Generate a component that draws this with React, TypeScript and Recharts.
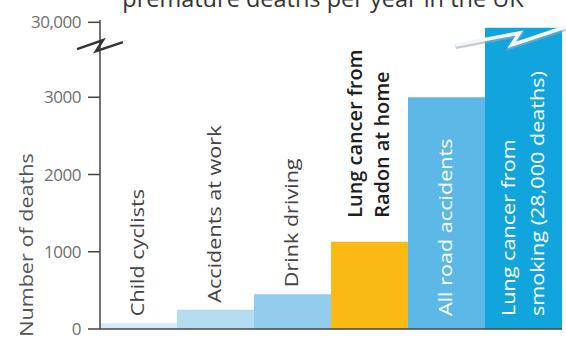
import React from "react";
import { BarChart, Bar, XAxis, YAxis, Cell, LabelList, ReferenceDot, Customized } from "recharts";

const categories = [
  "Child cyclists",
  "Accidents at work",
  "Drink driving",
  "Lung cancer from Radon at home",
  "All road accidents",
  "Lung cancer from smoking (28,000 deaths)",
];
const labelLines: string[][] = [
  ["Child cyclists"],
  ["Accidents at work"],
  ["Drink driving"],
  ["Lung cancer from", "Radon at home"],
  ["All road accidents"],
  ["Lung cancer from", "smoking (28,000 deaths)"],
];
const deaths = [75, 250, 450, 1130, 3000, 28000];
const colors = ["#d3eaf8", "#b3dcf3", "#93cdee", "#fbba12", "#5cb8e7", "#12a5dd"];
const yTickValues = [0, 1000, 2000, 3000, 30000];
const title = "premature deaths per year in the UK";
const yTitle = "Number of deaths";
const highlightIndex = 3;

// Broken axis: values above 3000 are compressed
const BREAK = 3000;
const TOP = 30000;
const TOP_DISPLAY = 3970;
const compress = (v: number) => (v <= BREAK ? v : BREAK + ((v - BREAK) * (TOP_DISPLAY - BREAK)) / (TOP - BREAK));

const data = categories.map((c, i) => ({ name: c, value: deaths[i], display: compress(deaths[i]) }));

const FONT = "'Open Sans', 'Noto Sans', sans-serif";
const STRETCH = 1.2;

const VText = ({ x, y, children, fontSize, fill, weight, k }: any) => (
  <text
    transform={`translate(${x} ${y}) rotate(-90) scale(${k} 1)`}
    x={0}
    y={0}
    textAnchor="start"
    fontSize={fontSize}
    fontWeight={weight}
    fill={fill}
    fontFamily={FONT}
  >
    {children}
  </text>
);

const BarLabel = (props: any) => {
  const { x, y, width, height, index } = props;
  const lines = labelLines[index];
  const cx = x + width / 2;
  const inside = deaths[index] > 2000;
  const bold = index === highlightIndex;
  const fs = bold ? 19.5 : 18;
  const lh = bold ? 27 : 29;
  const bottom = inside ? y + height - 13 : y - (bold ? 24 : 7);
  const fill = inside ? "#ffffff" : bold ? "#1e1e1e" : "#444";
  const n = lines.length;
  return (
    <g>
      {lines.map((ln, k) => {
        const off = (k - (n - 1) / 2) * lh;
        const tx = cx + off + fs * 0.33;
        return (
          <VText key={k} x={tx} y={bottom} fontSize={fs} fill={fill} weight={bold ? 600 : 400} k={bold ? 1.02 : STRETCH}>
            {ln}
          </VText>
        );
      })}
    </g>
  );
};

const AxisBreak = (props: any) => {
  const { cx, cy } = props;
  const ax = cx - 38.5;
  const pts = `${ax - 23},${cy + 6} ${ax + 3},${cy - 3} ${ax - 4},${cy + 8} ${ax + 23},${cy - 1}`;
  return <polyline points={pts} fill="none" stroke="#333" strokeWidth={2.5} strokeLinejoin="miter" />;
};

const BarBreak = (props: any) => {
  const { cx, cy } = props;
  const pts = `${cx - 68},${cy + 8} ${cx - 4},${cy - 4} ${cx - 12},${cy + 8} ${cx + 42},${cy - 10}`;
  return (
    <g>
      <polyline points={pts} fill="none" stroke="#9aa9b3" strokeWidth={5} transform="translate(0,1.5)" opacity={0.6} />
      <polyline points={pts} fill="none" stroke="#f4f8fa" strokeWidth={3.5} />
    </g>
  );
};

const Titles = () => (
  <g>
    <text x={323} y={7} textAnchor="middle" fontSize={23.5} fill="#333" fontFamily={FONT}>
      {title}
    </text>
    <text
      transform={`translate(33 245) rotate(-90) scale(${STRETCH} 1)`}
      x={0}
      y={0}
      textAnchor="middle"
      fontSize={18}
      fill="#555"
      fontFamily={FONT}
    >
      {yTitle}
    </text>
  </g>
);

export default function App() {
  return (
    <div style={{ position: "absolute", left: 0, top: 0, width: 566, height: 339, background: "#fff" }}>
      <BarChart
        width={566}
        height={339}
        data={data}
        margin={{ top: 20, right: 4, bottom: 9, left: 0 }}
        barCategoryGap={0}
      >
        <XAxis dataKey="name" tick={false} tickLine={false} height={1} axisLine={{ stroke: "#444", strokeWidth: 1.5 }} />
        <YAxis
          width={100}
          domain={[0, 4000]}
          ticks={yTickValues.map(compress)}
          tickFormatter={(v: number) => {
            const i = yTickValues.map(compress).indexOf(v);
            const o = i >= 0 ? yTickValues[i] : v;
            return o >= 10000 ? o.toLocaleString("en-US") : String(o);
          }}
          tickSize={12}
          tickMargin={7}
          tickLine={{ stroke: "#444", strokeWidth: 1.5 }}
          axisLine={{ stroke: "#444", strokeWidth: 1.5 }}
          tick={{ fill: "#6e6e6e", fontSize: 17, fontFamily: FONT, letterSpacing: -0.5 }}
          allowDataOverflow
        />
        <Bar dataKey="display" isAnimationActive={false}>
          {data.map((d, i) => (
            <Cell key={d.name} fill={colors[i]} />
          ))}
          <LabelList dataKey="display" content={BarLabel} />
        </Bar>
        <ReferenceDot x={categories[0]} y={3700} shape={AxisBreak} ifOverflow="visible" />
        <ReferenceDot x={categories[5]} y={3780} shape={BarBreak} ifOverflow="visible" />
        <Customized component={Titles} />
      </BarChart>
    </div>
  );
}
